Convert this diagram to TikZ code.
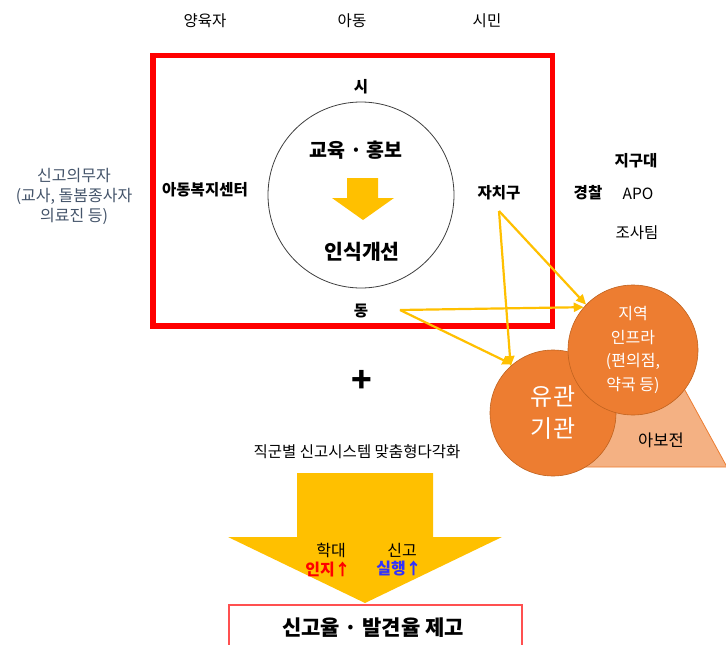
\documentclass[tikz,border=0pt]{standalone}
\usepackage{fontspec}
\setmainfont{Noto Sans CJK KR}
\usetikzlibrary{arrows.meta}
\definecolor{gold}{HTML}{FFC000}
\definecolor{orng}{HTML}{ED7D31}
\definecolor{orngdark}{HTML}{C0631F}
\definecolor{salmon}{HTML}{F4B183}
\definecolor{slate}{HTML}{44546A}
\definecolor{reportblue}{HTML}{3030FF}
\definecolor{boxred}{HTML}{FF5050}
\begin{document}
\begin{tikzpicture}[x=1pt,y=-1pt,
  lbl/.style={inner sep=0pt, font=\fontsize{15.5}{18}\selectfont},
  lblb/.style={inner sep=0pt, font=\fontsize{15.5}{18}\selectfont\bfseries},
  link/.style={draw=gold, line width=2.2pt, -{Triangle[length=10pt,width=9pt]}},
  bubble/.style={circle, fill=orng, draw=orngdark, line width=0.6pt, text=white, align=center, inner sep=0pt},
]
\useasboundingbox (0,0) rectangle (726,645);
\fill[white] (0,0) rectangle (726,645);

% top labels
\node[lbl] (parent) at (205,21) {양육자};
\node[lbl] (child) at (352,21) {아동};
\node[lbl] (citizen) at (487,21) {시민};

% red frame
\draw[red, line width=5.5pt] (153,55.5) rectangle (552.5,326);

\node[lblb] (si) at (361,87) {시};
\node[lblb] (dong) at (361,311) {동};
\node[lblb] (center) at (205,190) {아동복지센터};
\node[lblb] (jachigu) at (499,193) {자치구};

% circle
\node[circle, draw=black!75, line width=0.8pt, minimum size=186pt, inner sep=0pt] (edu) at (361,195) {};
\node[inner sep=0pt, font=\fontsize{19.5}{22}\selectfont\bfseries] (eduhong) at (356,150) {교육 · 홍보};
\fill[gold] (347,178) -- (378,178) -- (378,198) -- (394,198) -- (363,220) -- (332,198) -- (347,198) -- cycle;
\node[inner sep=0pt, font=\fontsize{20.5}{24}\selectfont\bfseries] (insik) at (362,252) {인식개선};

% left block
\node[inner sep=0pt, text=slate, align=center, font=\fontsize{16}{20}\selectfont] (mandated) at (74,196) {신고의무자\\(교사, 돌봄종사자\\의료진 등)};

% police
\node[lblb] (police) at (588,193) {경찰};
\node[lblb] (jigudae) at (636,161) {지구대};
\node[lbl] (apo) at (638,194) {APO};
\node[lbl] (josa) at (637,233) {조사팀};

% triangle and bubbles
\fill[salmon, draw=orng, line width=0.8pt] (652,330) -- (727,467) -- (577,467) -- cycle;
\node[bubble, minimum size=126pt, font=\fontsize{24}{32}\selectfont] (yugwan) at (553,413) {유관\\기관};
\node[bubble, minimum size=130pt, font=\fontsize{16}{23.5}\selectfont] (jiyeok) at (633,350) {지역\\인프라\\(편의점,\\약국 등)};
\node[inner sep=0pt, font=\fontsize{16.5}{20}\selectfont] (abojeon) at (661,440) {아보전};

% connectors
\coordinate (jstart) at (499,211);
\coordinate (dstart) at (400,310);
\draw[link] (jstart) -- (jiyeok.136);
\draw[link] (jstart) -- (yugwan.132);
\draw[link] (dstart) -- (jiyeok.139);
\draw[link] (dstart) -- (yugwan.130);

% plus
\node[inner sep=0pt, font=\fontsize{34}{36}\selectfont\bfseries] (plus) at (362,381) {+};

\node[lbl] (multi) at (357,452) {직군별 신고시스템 맞춤형다각화};

% big arrow
\fill[gold] (297,473) -- (433,473) -- (433,537) -- (502,537) -- (365,603) -- (228,537) -- (297,537) -- cycle;
\node[inner sep=0pt, font=\fontsize{16}{18}\selectfont] (abuse) at (331,550) {학대};
\node[inner sep=0pt, text=red, font=\fontsize{16}{18}\selectfont\bfseries] (aware) at (328,569) {인지↑};
\node[inner sep=0pt, font=\fontsize{16}{18}\selectfont] (report) at (402,550) {신고};
\node[inner sep=0pt, text=reportblue, font=\fontsize{16}{18}\selectfont\bfseries] (act) at (399,569) {실행↑};

% result box
\draw[boxred, line width=1.4pt] (229,605) rectangle (522,660);
\node[inner sep=0pt, font=\fontsize{21}{24}\selectfont\bfseries] (result) at (373,628) {신고율 · 발견율 제고};
\end{tikzpicture}
\end{document}
